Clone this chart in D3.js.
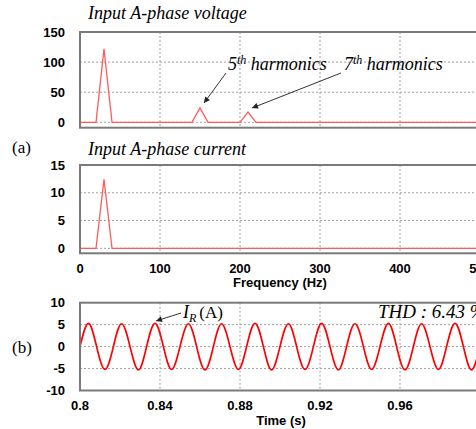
<!DOCTYPE html>
<html>
<head>
<meta charset="utf-8">
<script src="https://cdn.jsdelivr.net/npm/d3@7"></script>
<style>
  body { margin: 0; background: #fff; }
  svg { display: block; }
  .tick-label { font-family: "Liberation Sans", Arial, sans-serif; font-weight: bold; font-size: 13px; fill: #000; }
  .serif { font-family: "Liberation Serif", "Times New Roman", serif; fill: #000; }
</style>
</head>
<body>
<svg id="chart" width="476" height="429"></svg>
<script>
// spectrum data (Hz, magnitude)
var voltFreq = [0, 20, 30, 40, 140, 150, 160, 200, 210, 220, 500];
var voltMag = [0, 0, 122, 0, 0, 24, 0, 0, 17, 0, 0];
var currFreq = [0, 20, 30, 40, 500];
var currMag = [0, 0, 12.4, 0, 0];
var freqTicks = [0, 100, 200, 300, 400, 500];
var voltTicks = [0, 50, 100, 150];
var currTicks = [0, 5, 10, 15];

// current waveform I_R (A), read at quarter periods
var time = [0.8, 0.8042, 0.8083, 0.8125, 0.8167, 0.8208, 0.825, 0.8292, 0.8333, 0.8375,
  0.8417, 0.8458, 0.85, 0.8542, 0.8583, 0.8625, 0.8667, 0.8708, 0.875, 0.8792,
  0.8833, 0.8875, 0.8917, 0.8958, 0.9, 0.9042, 0.9083, 0.9125, 0.9167, 0.9208,
  0.925, 0.9292, 0.9333, 0.9375, 0.9417, 0.9458, 0.95, 0.9542, 0.9583, 0.9625,
  0.9667, 0.9708, 0.975, 0.9792, 0.9833, 0.9875, 0.9917, 0.9958, 1.0];
var current = [0, 5.3, 0, -5.2, 0, 5.2, 0, -5.3, 0, 5.3,
  0, -5.2, 0, 5.2, 0, -5.3, 0, 5.2, 0, -5.2,
  0, 5.3, 0, -5.3, 0, 5.2, 0, -5.2, 0, 5.3,
  0, -5.3, 0, 5.2, 0, -5.2, 0, 5.3, 0, -5.3,
  0, 5.2, 0, -5.2, 0, 5.3, 0, -5.3, 0];
var timeTicks = [0.8, 0.84, 0.88, 0.92, 0.96, 1.0];
var timeYTicks = [-10, -5, 0, 5, 10];

var svg = d3.select("#chart");
var left = 80, right = 480;

var xFreq = d3.scaleLinear().domain([0, 500]).range([left, right]);
var xTime = d3.scaleLinear().domain([0.8, 1.0]).range([left, right]);

function drawPanel(opt) {
    var g = svg.append("g");
    var y = opt.y;
    var x = opt.x;
    var top = y.range()[1], bottom = y.range()[0];

    // grid
    g.selectAll(".vgrid").data(opt.xTicks.slice(1, -1)).enter()
        .append("line")
        .attr("x1", d => x(d)).attr("x2", d => x(d))
        .attr("y1", top).attr("y2", bottom)
        .attr("stroke", "#a0a0a0").attr("stroke-width", 1)
        .attr("stroke-dasharray", "2,2");
    g.selectAll(".hgrid").data(opt.yTicks.filter(d => d > y.domain()[0] && d < y.domain()[1])).enter()
        .append("line")
        .attr("x1", left).attr("x2", right)
        .attr("y1", d => y(d)).attr("y2", d => y(d))
        .attr("stroke", "#a0a0a0").attr("stroke-width", 1)
        .attr("stroke-dasharray", "2,2");

    // y tick labels
    g.selectAll(".ylab").data(opt.yTicks).enter()
        .append("text")
        .attr("class", "tick-label")
        .attr("x", 65)
        .attr("y", d => y(d) + 4.5)
        .attr("text-anchor", "end")
        .text(d => d);

    // x tick labels
    if (opt.xLabels) {
        g.selectAll(".xlab").data(opt.xTicks).enter()
            .append("text")
            .attr("class", "tick-label")
            .attr("x", d => x(d))
            .attr("y", bottom + opt.xLabelOffset)
            .attr("text-anchor", "middle")
            .text(opt.xFormat);
    }

    // line
    var line = d3.line()
        .x(d => x(d[0]))
        .y(d => y(d[1]))
        .curve(opt.curve || d3.curveLinear);
    g.append("path")
        .datum(d3.zip(opt.xs, opt.ys))
        .attr("d", line)
        .attr("fill", "none")
        .attr("stroke", opt.color)
        .attr("stroke-width", opt.width);

    // frame
    g.append("rect")
        .attr("x", left).attr("y", top)
        .attr("width", right - left).attr("height", bottom - top)
        .attr("fill", "none")
        .attr("stroke", "#7a7a7a")
        .attr("stroke-width", 2);
    return g;
}

drawPanel({
    x: xFreq,
    y: d3.scaleLinear().domain([-9, 150]).range([127.7, 32]),
    xTicks: freqTicks, yTicks: voltTicks,
    xs: voltFreq, ys: voltMag,
    color: "#ff5c5c", width: 1.3
});

drawPanel({
    x: xFreq,
    y: d3.scaleLinear().domain([-0.9, 15]).range([253.3, 165]),
    xTicks: freqTicks, yTicks: currTicks,
    xLabels: true, xLabelOffset: 19.5, xFormat: d => d,
    xs: currFreq, ys: currMag,
    color: "#ff5c5c", width: 1.3
});

drawPanel({
    x: xTime,
    y: d3.scaleLinear().domain([-10, 10]).range([390.5, 302.7]),
    xTicks: timeTicks, yTicks: timeYTicks,
    xLabels: true, xLabelOffset: 19.5, xFormat: d => d3.format("")(+d.toFixed(2)),
    xs: time, ys: current,
    curve: d3.curveNatural,
    color: "#ff0000", width: 1.7
});

// axis titles
svg.append("text").attr("class", "tick-label")
    .attr("x", 280).attr("y", 287).attr("text-anchor", "middle")
    .text("Frequency (Hz)");
svg.append("text").attr("class", "tick-label")
    .attr("x", 281).attr("y", 425).attr("text-anchor", "middle")
    .text("Time (s)");

// titles
svg.append("text").attr("class", "serif")
    .attr("x", 88).attr("y", 19)
    .style("font-style", "italic").style("font-size", "18px")
    .text("Input A-phase voltage");
svg.append("text").attr("class", "serif")
    .attr("x", 88).attr("y", 155)
    .style("font-style", "italic").style("font-size", "18px")
    .text("Input A-phase current");

svg.append("text").attr("class", "serif")
    .attr("x", 12).attr("y", 153).style("font-size", "17px").text("(a)");
svg.append("text").attr("class", "serif")
    .attr("x", 12).attr("y", 353).style("font-size", "17px").text("(b)");

// arrowhead
svg.append("defs").append("marker")
    .attr("id", "arrow")
    .attr("viewBox", "0 0 10 10")
    .attr("refX", 10).attr("refY", 5)
    .attr("markerWidth", 9).attr("markerHeight", 6)
    .attr("markerUnits", "userSpaceOnUse")
    .attr("orient", "auto")
    .append("path")
    .attr("d", "M0,0L10,5L0,10z")
    .attr("fill", "#222");

function arrow(x1, y1, x2, y2) {
    svg.append("line")
        .attr("x1", x1).attr("y1", y1).attr("x2", x2).attr("y2", y2)
        .attr("stroke", "#333").attr("stroke-width", 1)
        .attr("marker-end", "url(#arrow)");
}

function harmonicLabel(x, y, n) {
    var t = svg.append("text").attr("class", "serif")
        .attr("x", x).attr("y", y)
        .style("font-style", "italic").style("font-size", "18px");
    t.append("tspan").text(n);
    t.append("tspan").attr("dy", -6).style("font-size", "12px").text("th");
    t.append("tspan").attr("dy", 6).text(" harmonics");
}

harmonicLabel(228, 70, "5");
harmonicLabel(344, 70, "7");
arrow(226, 73, 204, 103);
arrow(341, 73, 252, 108);

// I_R label
var ir = svg.append("text").attr("class", "serif")
    .attr("x", 183).attr("y", 318).style("font-size", "18px");
ir.append("tspan").style("font-style", "italic").text("I");
ir.append("tspan").attr("dy", 4).style("font-style", "italic").style("font-size", "12px").text("R");
ir.append("tspan").attr("dy", -4).attr("dx", 3).style("font-size", "17px").text("(A)");
arrow(181, 313, 156, 321);

svg.append("text").attr("class", "serif")
    .attr("x", 378).attr("y", 318)
    .style("font-style", "italic").style("font-size", "19px")
    .text("THD : 6.43 %");
</script>
</body>
</html>
